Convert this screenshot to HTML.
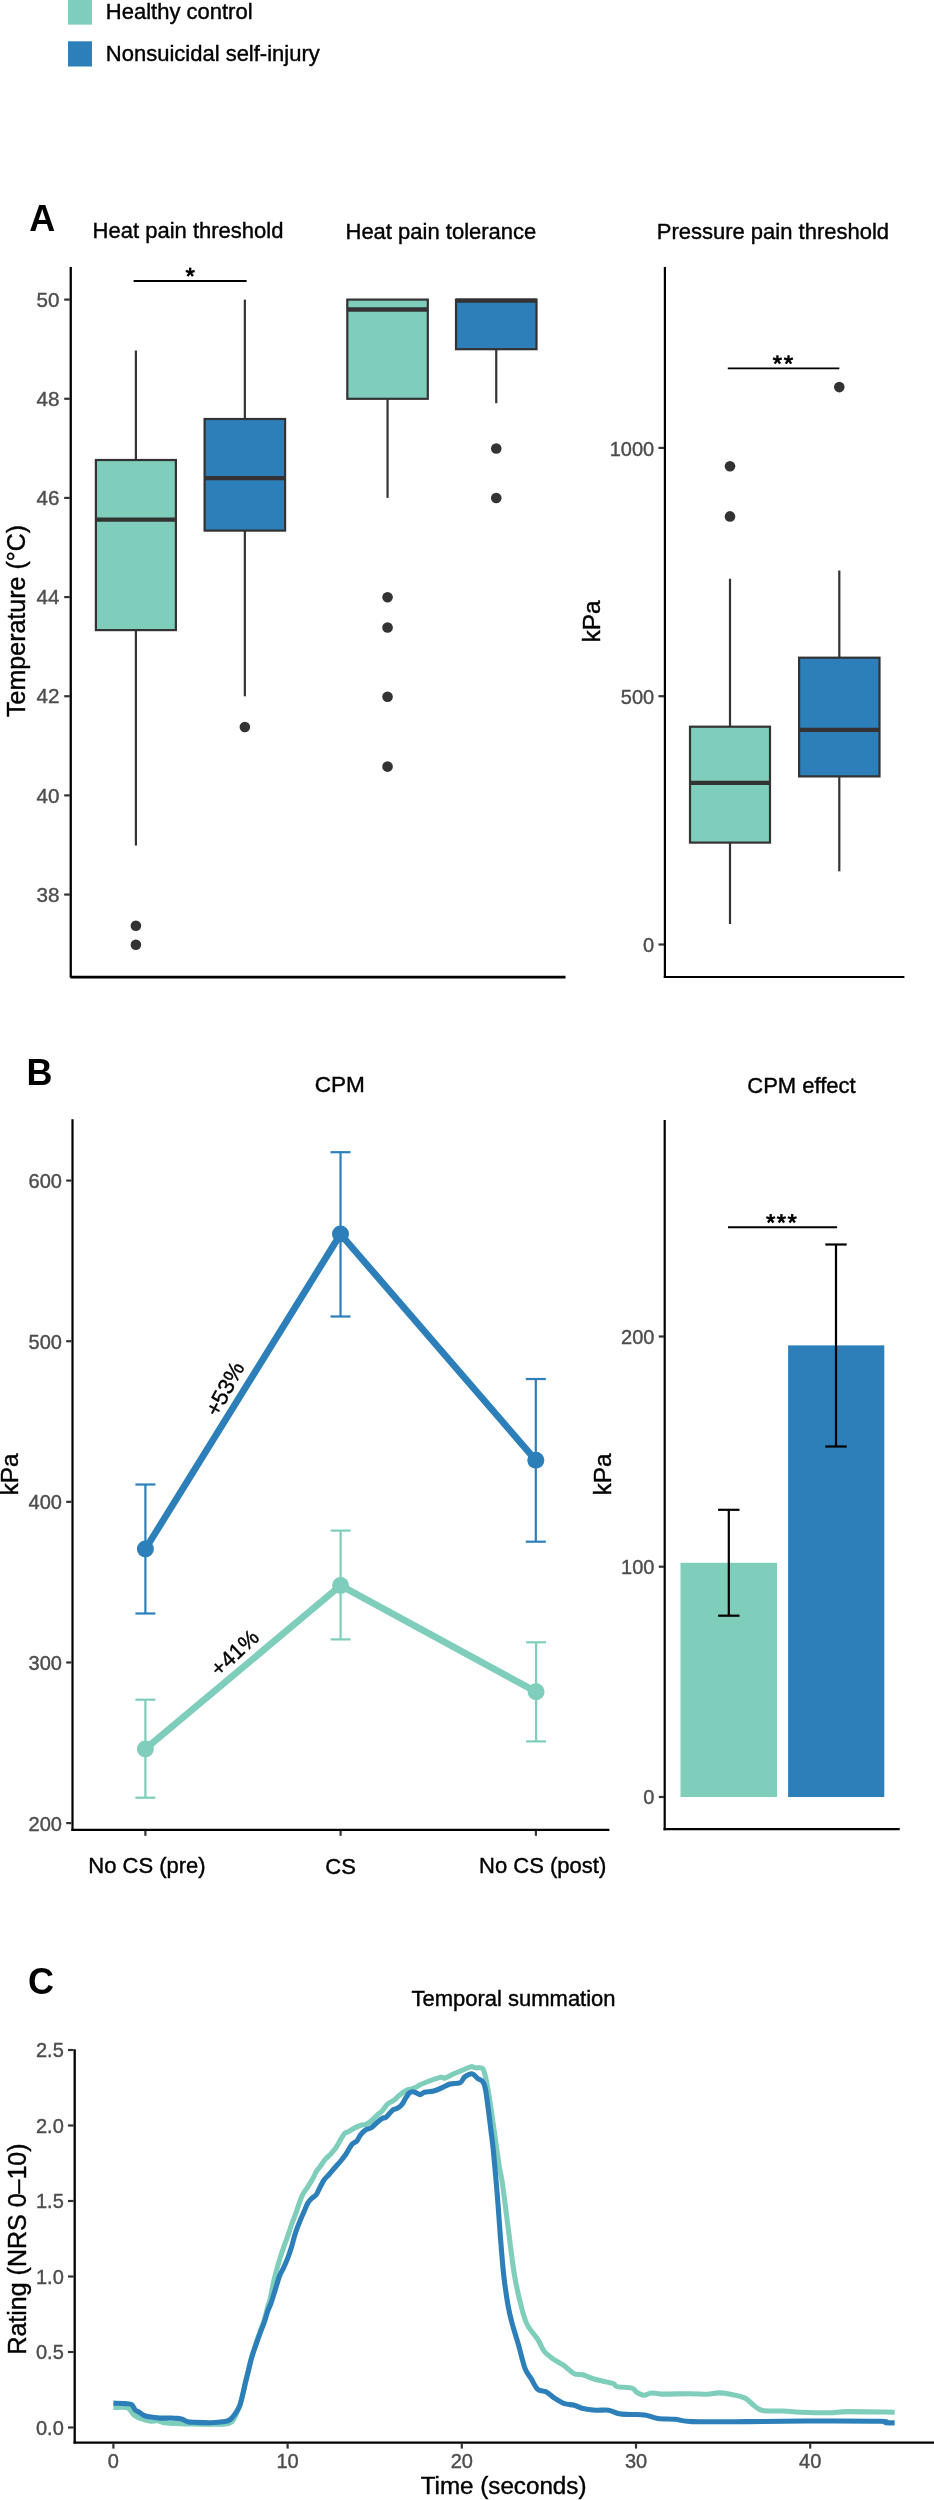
<!DOCTYPE html>
<html><head><meta charset="utf-8"><title>Figure</title>
<style>
html,body{margin:0;padding:0;background:#fff;width:934px;height:2500px;overflow:hidden;}
svg{display:block;will-change:transform;}
text{font-family:"Liberation Sans", sans-serif;}
</style></head>
<body>
<svg width="934" height="2500" viewBox="0 0 934 2500">
<rect x="0" y="0" width="934" height="2500" fill="#fff"/>
<rect x="68" y="-1" width="24" height="25.6" fill="#7fcdbb"/>
<rect x="68" y="41.3" width="24" height="25.2" fill="#2c7fb8"/>
<text x="105.8" y="18.8" font-size="22" fill="#000" stroke="#000" stroke-width="0.4" text-anchor="start" font-weight="normal" >Healthy control</text>
<text x="105.8" y="60.7" font-size="22" fill="#000" stroke="#000" stroke-width="0.4" text-anchor="start" font-weight="normal" >Nonsuicidal self-injury</text>
<text x="29.2" y="231.3" font-size="36" fill="#000" stroke="#000" stroke-width="0" text-anchor="start" font-weight="bold" >A</text>
<text x="188" y="238.3" font-size="22" fill="#000" stroke="#000" stroke-width="0.4" text-anchor="middle" font-weight="normal" >Heat pain threshold</text>
<text x="440.9" y="238.6" font-size="22" fill="#000" stroke="#000" stroke-width="0.4" text-anchor="middle" font-weight="normal" >Heat pain tolerance</text>
<text x="772.9" y="238.6" font-size="22" fill="#000" stroke="#000" stroke-width="0.4" text-anchor="middle" font-weight="normal" >Pressure pain threshold</text>
<line x1="70.75" y1="267" x2="70.75" y2="977.5" stroke="#000" stroke-width="2.3" stroke-linecap="butt"/>
<line x1="70.5" y1="977.2" x2="565.5" y2="977.2" stroke="#000" stroke-width="2.8" stroke-linecap="butt"/>
<line x1="64.2" y1="299.6" x2="69.8" y2="299.6" stroke="#333333" stroke-width="2.2" stroke-linecap="butt"/>
<text x="59.4" y="306.8" font-size="20.6" fill="#4d4d4d" stroke="#4d4d4d" stroke-width="0.4" text-anchor="end" font-weight="normal" >50</text>
<line x1="64.2" y1="398.76" x2="69.8" y2="398.76" stroke="#333333" stroke-width="2.2" stroke-linecap="butt"/>
<text x="59.4" y="405.96" font-size="20.6" fill="#4d4d4d" stroke="#4d4d4d" stroke-width="0.4" text-anchor="end" font-weight="normal" >48</text>
<line x1="64.2" y1="497.92" x2="69.8" y2="497.92" stroke="#333333" stroke-width="2.2" stroke-linecap="butt"/>
<text x="59.4" y="505.12" font-size="20.6" fill="#4d4d4d" stroke="#4d4d4d" stroke-width="0.4" text-anchor="end" font-weight="normal" >46</text>
<line x1="64.2" y1="597.08" x2="69.8" y2="597.08" stroke="#333333" stroke-width="2.2" stroke-linecap="butt"/>
<text x="59.4" y="604.2800000000001" font-size="20.6" fill="#4d4d4d" stroke="#4d4d4d" stroke-width="0.4" text-anchor="end" font-weight="normal" >44</text>
<line x1="64.2" y1="696.24" x2="69.8" y2="696.24" stroke="#333333" stroke-width="2.2" stroke-linecap="butt"/>
<text x="59.4" y="703.44" font-size="20.6" fill="#4d4d4d" stroke="#4d4d4d" stroke-width="0.4" text-anchor="end" font-weight="normal" >42</text>
<line x1="64.2" y1="795.4" x2="69.8" y2="795.4" stroke="#333333" stroke-width="2.2" stroke-linecap="butt"/>
<text x="59.4" y="802.6" font-size="20.6" fill="#4d4d4d" stroke="#4d4d4d" stroke-width="0.4" text-anchor="end" font-weight="normal" >40</text>
<line x1="64.2" y1="894.5600000000001" x2="69.8" y2="894.5600000000001" stroke="#333333" stroke-width="2.2" stroke-linecap="butt"/>
<text x="59.4" y="901.7600000000001" font-size="20.6" fill="#4d4d4d" stroke="#4d4d4d" stroke-width="0.4" text-anchor="end" font-weight="normal" >38</text>
<text transform="translate(24.8,620.9) rotate(-90)" font-size="25" text-anchor="middle" fill="#000" stroke="#000" stroke-width="0.4">Temperature (°C)</text>
<line x1="135.9" y1="350.5" x2="135.9" y2="460.0" stroke="#333333" stroke-width="2.2" stroke-linecap="butt"/>
<line x1="135.9" y1="630.1" x2="135.9" y2="845.5" stroke="#333333" stroke-width="2.2" stroke-linecap="butt"/>
<rect x="95.9" y="460.0" width="80.0" height="170.10000000000002" fill="#7fcdbb" stroke="#333333" stroke-width="2.2"/>
<line x1="95.9" y1="519.6" x2="175.9" y2="519.6" stroke="#333333" stroke-width="4.4" stroke-linecap="butt"/>
<circle cx="135.9" cy="925.8" r="5.3" fill="#333333"/>
<circle cx="135.9" cy="944.8" r="5.3" fill="#333333"/>
<line x1="244.85000000000002" y1="299.6" x2="244.85000000000002" y2="419.0" stroke="#333333" stroke-width="2.2" stroke-linecap="butt"/>
<line x1="244.85000000000002" y1="530.6" x2="244.85000000000002" y2="696.3" stroke="#333333" stroke-width="2.2" stroke-linecap="butt"/>
<rect x="204.6" y="419.0" width="80.50000000000003" height="111.60000000000002" fill="#2c7fb8" stroke="#333333" stroke-width="2.2"/>
<line x1="204.6" y1="478.1" x2="285.1" y2="478.1" stroke="#333333" stroke-width="4.4" stroke-linecap="butt"/>
<circle cx="244.85000000000002" cy="727.0" r="5.3" fill="#333333"/>
<line x1="387.55" y1="299.6" x2="387.55" y2="299.6" stroke="#333333" stroke-width="2.2" stroke-linecap="butt"/>
<line x1="387.55" y1="398.8" x2="387.55" y2="497.9" stroke="#333333" stroke-width="2.2" stroke-linecap="butt"/>
<rect x="347.3" y="299.6" width="80.5" height="99.19999999999999" fill="#7fcdbb" stroke="#333333" stroke-width="2.2"/>
<line x1="347.3" y1="309.5" x2="427.8" y2="309.5" stroke="#333333" stroke-width="4.4" stroke-linecap="butt"/>
<circle cx="387.55" cy="597.2" r="5.3" fill="#333333"/>
<circle cx="387.55" cy="627.5" r="5.3" fill="#333333"/>
<circle cx="387.55" cy="696.8" r="5.3" fill="#333333"/>
<circle cx="387.55" cy="766.6" r="5.3" fill="#333333"/>
<line x1="496.25" y1="299.6" x2="496.25" y2="299.6" stroke="#333333" stroke-width="2.2" stroke-linecap="butt"/>
<line x1="496.25" y1="349.2" x2="496.25" y2="403.2" stroke="#333333" stroke-width="2.2" stroke-linecap="butt"/>
<rect x="456.0" y="299.6" width="80.5" height="49.599999999999966" fill="#2c7fb8" stroke="#333333" stroke-width="2.2"/>
<line x1="456.0" y1="300.6" x2="536.5" y2="300.6" stroke="#333333" stroke-width="4.4" stroke-linecap="butt"/>
<circle cx="496.25" cy="448.5" r="5.3" fill="#333333"/>
<circle cx="496.25" cy="498.0" r="5.3" fill="#333333"/>
<line x1="133.6" y1="281" x2="246.6" y2="281" stroke="#000" stroke-width="1.9" stroke-linecap="butt"/>
<line x1="190.20" y1="272.30" x2="190.20" y2="267.65" stroke="#000" stroke-width="2.3" stroke-linecap="butt"/>
<line x1="190.20" y1="272.30" x2="194.62" y2="270.86" stroke="#000" stroke-width="2.3" stroke-linecap="butt"/>
<line x1="190.20" y1="272.30" x2="192.93" y2="276.06" stroke="#000" stroke-width="2.3" stroke-linecap="butt"/>
<line x1="190.20" y1="272.30" x2="187.47" y2="276.06" stroke="#000" stroke-width="2.3" stroke-linecap="butt"/>
<line x1="190.20" y1="272.30" x2="185.78" y2="270.86" stroke="#000" stroke-width="2.3" stroke-linecap="butt"/>
<line x1="664.9" y1="267" x2="664.9" y2="978" stroke="#000" stroke-width="2.2" stroke-linecap="butt"/>
<line x1="663.8" y1="977" x2="904.4" y2="977" stroke="#000" stroke-width="2.0" stroke-linecap="butt"/>
<line x1="658.5" y1="944.5" x2="664" y2="944.5" stroke="#333333" stroke-width="2.2" stroke-linecap="butt"/>
<text x="654.2" y="952.1" font-size="20" fill="#4d4d4d" stroke="#4d4d4d" stroke-width="0.4" text-anchor="end" font-weight="normal" >0</text>
<line x1="658.5" y1="696.2" x2="664" y2="696.2" stroke="#333333" stroke-width="2.2" stroke-linecap="butt"/>
<text x="654.2" y="703.8000000000001" font-size="20" fill="#4d4d4d" stroke="#4d4d4d" stroke-width="0.4" text-anchor="end" font-weight="normal" >500</text>
<line x1="658.5" y1="447.9" x2="664" y2="447.9" stroke="#333333" stroke-width="2.2" stroke-linecap="butt"/>
<text x="654.2" y="455.5" font-size="20" fill="#4d4d4d" stroke="#4d4d4d" stroke-width="0.4" text-anchor="end" font-weight="normal" >1000</text>
<text transform="translate(600.4,621.4) rotate(-90)" font-size="24.4" text-anchor="middle" fill="#000" stroke="#000" stroke-width="0.4">kPa</text>
<line x1="730.0" y1="578.7" x2="730.0" y2="726.7" stroke="#333333" stroke-width="2.2" stroke-linecap="butt"/>
<line x1="730.0" y1="842.6" x2="730.0" y2="924.0" stroke="#333333" stroke-width="2.2" stroke-linecap="butt"/>
<rect x="690.0" y="726.7" width="80.0" height="115.89999999999998" fill="#7fcdbb" stroke="#333333" stroke-width="2.2"/>
<line x1="690.0" y1="782.9" x2="770.0" y2="782.9" stroke="#333333" stroke-width="4.4" stroke-linecap="butt"/>
<circle cx="730.0" cy="466.2" r="5.3" fill="#333333"/>
<circle cx="730.0" cy="516.4" r="5.3" fill="#333333"/>
<line x1="839.3" y1="570.5" x2="839.3" y2="657.7" stroke="#333333" stroke-width="2.2" stroke-linecap="butt"/>
<line x1="839.3" y1="776.4" x2="839.3" y2="871.3" stroke="#333333" stroke-width="2.2" stroke-linecap="butt"/>
<rect x="799.1" y="657.7" width="80.39999999999998" height="118.69999999999993" fill="#2c7fb8" stroke="#333333" stroke-width="2.2"/>
<line x1="799.1" y1="729.9" x2="879.5" y2="729.9" stroke="#333333" stroke-width="4.4" stroke-linecap="butt"/>
<circle cx="839.3" cy="387.1" r="5.3" fill="#333333"/>
<line x1="727.8" y1="368.4" x2="839.3" y2="368.4" stroke="#000" stroke-width="1.9" stroke-linecap="butt"/>
<line x1="777.40" y1="359.90" x2="777.40" y2="355.25" stroke="#000" stroke-width="2.3" stroke-linecap="butt"/>
<line x1="777.40" y1="359.90" x2="781.82" y2="358.46" stroke="#000" stroke-width="2.3" stroke-linecap="butt"/>
<line x1="777.40" y1="359.90" x2="780.13" y2="363.66" stroke="#000" stroke-width="2.3" stroke-linecap="butt"/>
<line x1="777.40" y1="359.90" x2="774.67" y2="363.66" stroke="#000" stroke-width="2.3" stroke-linecap="butt"/>
<line x1="777.40" y1="359.90" x2="772.98" y2="358.46" stroke="#000" stroke-width="2.3" stroke-linecap="butt"/>
<line x1="788.50" y1="359.90" x2="788.50" y2="355.25" stroke="#000" stroke-width="2.3" stroke-linecap="butt"/>
<line x1="788.50" y1="359.90" x2="792.92" y2="358.46" stroke="#000" stroke-width="2.3" stroke-linecap="butt"/>
<line x1="788.50" y1="359.90" x2="791.23" y2="363.66" stroke="#000" stroke-width="2.3" stroke-linecap="butt"/>
<line x1="788.50" y1="359.90" x2="785.77" y2="363.66" stroke="#000" stroke-width="2.3" stroke-linecap="butt"/>
<line x1="788.50" y1="359.90" x2="784.08" y2="358.46" stroke="#000" stroke-width="2.3" stroke-linecap="butt"/>
<text x="26.5" y="1085.4" font-size="36" fill="#000" stroke="#000" stroke-width="0" text-anchor="start" font-weight="bold" >B</text>
<text x="339.8" y="1091.9" font-size="22.6" fill="#000" stroke="#000" stroke-width="0.4" text-anchor="middle" font-weight="normal" >CPM</text>
<text x="801.5" y="1092.9" font-size="22" fill="#000" stroke="#000" stroke-width="0.4" text-anchor="middle" font-weight="normal" >CPM effect</text>
<line x1="72.5" y1="1119.2" x2="72.5" y2="1830.9" stroke="#000" stroke-width="2.2" stroke-linecap="butt"/>
<line x1="71.4" y1="1829.8" x2="609.4" y2="1829.8" stroke="#000" stroke-width="2.2" stroke-linecap="butt"/>
<line x1="66.2" y1="1823.1" x2="71.5" y2="1823.1" stroke="#333333" stroke-width="2.2" stroke-linecap="butt"/>
<text x="61.9" y="1830.5" font-size="20" fill="#4d4d4d" stroke="#4d4d4d" stroke-width="0.4" text-anchor="end" font-weight="normal" >200</text>
<line x1="66.2" y1="1662.4699999999998" x2="71.5" y2="1662.4699999999998" stroke="#333333" stroke-width="2.2" stroke-linecap="butt"/>
<text x="61.9" y="1669.87" font-size="20" fill="#4d4d4d" stroke="#4d4d4d" stroke-width="0.4" text-anchor="end" font-weight="normal" >300</text>
<line x1="66.2" y1="1501.84" x2="71.5" y2="1501.84" stroke="#333333" stroke-width="2.2" stroke-linecap="butt"/>
<text x="61.9" y="1509.24" font-size="20" fill="#4d4d4d" stroke="#4d4d4d" stroke-width="0.4" text-anchor="end" font-weight="normal" >400</text>
<line x1="66.2" y1="1341.2099999999998" x2="71.5" y2="1341.2099999999998" stroke="#333333" stroke-width="2.2" stroke-linecap="butt"/>
<text x="61.9" y="1348.61" font-size="20" fill="#4d4d4d" stroke="#4d4d4d" stroke-width="0.4" text-anchor="end" font-weight="normal" >500</text>
<line x1="66.2" y1="1180.58" x2="71.5" y2="1180.58" stroke="#333333" stroke-width="2.2" stroke-linecap="butt"/>
<text x="61.9" y="1187.98" font-size="20" fill="#4d4d4d" stroke="#4d4d4d" stroke-width="0.4" text-anchor="end" font-weight="normal" >600</text>
<line x1="145.4" y1="1830.9" x2="145.4" y2="1835.8" stroke="#333333" stroke-width="2.2" stroke-linecap="butt"/>
<line x1="340.6" y1="1830.9" x2="340.6" y2="1835.8" stroke="#333333" stroke-width="2.2" stroke-linecap="butt"/>
<line x1="535.9" y1="1830.9" x2="535.9" y2="1835.8" stroke="#333333" stroke-width="2.2" stroke-linecap="butt"/>
<text x="147" y="1873.2" font-size="22" fill="#000" stroke="#000" stroke-width="0.4" text-anchor="middle" font-weight="normal" >No CS (pre)</text>
<text x="340.6" y="1874.2" font-size="22" fill="#000" stroke="#000" stroke-width="0.4" text-anchor="middle" font-weight="normal" >CS</text>
<text x="542.65" y="1873.2" font-size="22" fill="#000" stroke="#000" stroke-width="0.4" text-anchor="middle" font-weight="normal" >No CS (post)</text>
<text transform="translate(17.6,1474.4) rotate(-90)" font-size="24.4" text-anchor="middle" fill="#000" stroke="#000" stroke-width="0.4">kPa</text>
<polyline points="145.4,1748.9 340.6,1585.5 536.1,1691.8" fill="none" stroke="#7fcdbb" stroke-width="6.8" stroke-linejoin="round"/>
<polyline points="145.4,1549.0 340.5,1234.1 535.8,1460.3" fill="none" stroke="#2c7fb8" stroke-width="6.8" stroke-linejoin="round"/>
<line x1="145.4" y1="1484.5" x2="145.4" y2="1613.5" stroke="#2c7fb8" stroke-width="2.2" stroke-linecap="butt"/>
<line x1="135.4" y1="1484.5" x2="155.4" y2="1484.5" stroke="#2c7fb8" stroke-width="2.2" stroke-linecap="butt"/>
<line x1="135.4" y1="1613.5" x2="155.4" y2="1613.5" stroke="#2c7fb8" stroke-width="2.2" stroke-linecap="butt"/>
<line x1="340.5" y1="1152.2" x2="340.5" y2="1316.5" stroke="#2c7fb8" stroke-width="2.2" stroke-linecap="butt"/>
<line x1="330.5" y1="1152.2" x2="350.5" y2="1152.2" stroke="#2c7fb8" stroke-width="2.2" stroke-linecap="butt"/>
<line x1="330.5" y1="1316.5" x2="350.5" y2="1316.5" stroke="#2c7fb8" stroke-width="2.2" stroke-linecap="butt"/>
<line x1="535.8" y1="1379.0" x2="535.8" y2="1541.7" stroke="#2c7fb8" stroke-width="2.2" stroke-linecap="butt"/>
<line x1="525.8" y1="1379.0" x2="545.8" y2="1379.0" stroke="#2c7fb8" stroke-width="2.2" stroke-linecap="butt"/>
<line x1="525.8" y1="1541.7" x2="545.8" y2="1541.7" stroke="#2c7fb8" stroke-width="2.2" stroke-linecap="butt"/>
<line x1="145.4" y1="1699.7" x2="145.4" y2="1797.7" stroke="#7fcdbb" stroke-width="2.2" stroke-linecap="butt"/>
<line x1="135.4" y1="1699.7" x2="155.4" y2="1699.7" stroke="#7fcdbb" stroke-width="2.2" stroke-linecap="butt"/>
<line x1="135.4" y1="1797.7" x2="155.4" y2="1797.7" stroke="#7fcdbb" stroke-width="2.2" stroke-linecap="butt"/>
<line x1="340.6" y1="1530.6" x2="340.6" y2="1639.4" stroke="#7fcdbb" stroke-width="2.2" stroke-linecap="butt"/>
<line x1="330.6" y1="1530.6" x2="350.6" y2="1530.6" stroke="#7fcdbb" stroke-width="2.2" stroke-linecap="butt"/>
<line x1="330.6" y1="1639.4" x2="350.6" y2="1639.4" stroke="#7fcdbb" stroke-width="2.2" stroke-linecap="butt"/>
<line x1="536.1" y1="1642.3" x2="536.1" y2="1741.4" stroke="#7fcdbb" stroke-width="2.2" stroke-linecap="butt"/>
<line x1="526.1" y1="1642.3" x2="546.1" y2="1642.3" stroke="#7fcdbb" stroke-width="2.2" stroke-linecap="butt"/>
<line x1="526.1" y1="1741.4" x2="546.1" y2="1741.4" stroke="#7fcdbb" stroke-width="2.2" stroke-linecap="butt"/>
<circle cx="145.4" cy="1549.0" r="8.5" fill="#2c7fb8"/>
<circle cx="340.5" cy="1234.1" r="8.5" fill="#2c7fb8"/>
<circle cx="535.8" cy="1460.3" r="8.5" fill="#2c7fb8"/>
<circle cx="145.4" cy="1748.9" r="8.5" fill="#7fcdbb"/>
<circle cx="340.6" cy="1585.5" r="8.5" fill="#7fcdbb"/>
<circle cx="536.1" cy="1691.8" r="8.5" fill="#7fcdbb"/>
<text transform="translate(224.9,1388.9) rotate(-62)" font-size="22.3" text-anchor="middle" dominant-baseline="central" fill="#000" stroke="#000" stroke-width="0.4">+53%</text>
<text transform="translate(234.6,1652.8) rotate(-43)" font-size="21.8" text-anchor="middle" dominant-baseline="central" fill="#000" stroke="#000" stroke-width="0.4">+41%</text>
<line x1="664.7" y1="1120.1" x2="664.7" y2="1830.3" stroke="#000" stroke-width="2.2" stroke-linecap="butt"/>
<line x1="663.6" y1="1829.2" x2="899.7" y2="1829.2" stroke="#000" stroke-width="2.2" stroke-linecap="butt"/>
<line x1="658.8" y1="1797.0" x2="664" y2="1797.0" stroke="#333333" stroke-width="2.2" stroke-linecap="butt"/>
<text x="654.4" y="1804.4" font-size="20" fill="#4d4d4d" stroke="#4d4d4d" stroke-width="0.4" text-anchor="end" font-weight="normal" >0</text>
<line x1="658.8" y1="1566.7" x2="664" y2="1566.7" stroke="#333333" stroke-width="2.2" stroke-linecap="butt"/>
<text x="654.4" y="1574.1000000000001" font-size="20" fill="#4d4d4d" stroke="#4d4d4d" stroke-width="0.4" text-anchor="end" font-weight="normal" >100</text>
<line x1="658.8" y1="1336.5" x2="664" y2="1336.5" stroke="#333333" stroke-width="2.2" stroke-linecap="butt"/>
<text x="654.4" y="1343.9" font-size="20" fill="#4d4d4d" stroke="#4d4d4d" stroke-width="0.4" text-anchor="end" font-weight="normal" >200</text>
<text transform="translate(610.7,1474.4) rotate(-90)" font-size="24.4" text-anchor="middle" fill="#000" stroke="#000" stroke-width="0.4">kPa</text>
<rect x="680.5" y="1562.8" width="96.5" height="234.20000000000005" fill="#7fcdbb"/>
<rect x="788.1" y="1345.4" width="96.2" height="451.5999999999999" fill="#2c7fb8"/>
<line x1="728.8" y1="1509.8" x2="728.8" y2="1615.7" stroke="#000" stroke-width="2.2" stroke-linecap="butt"/>
<line x1="718.0999999999999" y1="1509.8" x2="739.5" y2="1509.8" stroke="#000" stroke-width="2.2" stroke-linecap="butt"/>
<line x1="718.0999999999999" y1="1615.7" x2="739.5" y2="1615.7" stroke="#000" stroke-width="2.2" stroke-linecap="butt"/>
<line x1="836.0" y1="1244.5" x2="836.0" y2="1446.5" stroke="#000" stroke-width="2.2" stroke-linecap="butt"/>
<line x1="825.3" y1="1244.5" x2="846.7" y2="1244.5" stroke="#000" stroke-width="2.2" stroke-linecap="butt"/>
<line x1="825.3" y1="1446.5" x2="846.7" y2="1446.5" stroke="#000" stroke-width="2.2" stroke-linecap="butt"/>
<line x1="728" y1="1227.3" x2="837.1" y2="1227.3" stroke="#000" stroke-width="1.9" stroke-linecap="butt"/>
<line x1="770.70" y1="1218.70" x2="770.70" y2="1214.05" stroke="#000" stroke-width="2.3" stroke-linecap="butt"/>
<line x1="770.70" y1="1218.70" x2="775.12" y2="1217.26" stroke="#000" stroke-width="2.3" stroke-linecap="butt"/>
<line x1="770.70" y1="1218.70" x2="773.43" y2="1222.46" stroke="#000" stroke-width="2.3" stroke-linecap="butt"/>
<line x1="770.70" y1="1218.70" x2="767.97" y2="1222.46" stroke="#000" stroke-width="2.3" stroke-linecap="butt"/>
<line x1="770.70" y1="1218.70" x2="766.28" y2="1217.26" stroke="#000" stroke-width="2.3" stroke-linecap="butt"/>
<line x1="781.40" y1="1218.70" x2="781.40" y2="1214.05" stroke="#000" stroke-width="2.3" stroke-linecap="butt"/>
<line x1="781.40" y1="1218.70" x2="785.82" y2="1217.26" stroke="#000" stroke-width="2.3" stroke-linecap="butt"/>
<line x1="781.40" y1="1218.70" x2="784.13" y2="1222.46" stroke="#000" stroke-width="2.3" stroke-linecap="butt"/>
<line x1="781.40" y1="1218.70" x2="778.67" y2="1222.46" stroke="#000" stroke-width="2.3" stroke-linecap="butt"/>
<line x1="781.40" y1="1218.70" x2="776.98" y2="1217.26" stroke="#000" stroke-width="2.3" stroke-linecap="butt"/>
<line x1="792.20" y1="1218.70" x2="792.20" y2="1214.05" stroke="#000" stroke-width="2.3" stroke-linecap="butt"/>
<line x1="792.20" y1="1218.70" x2="796.62" y2="1217.26" stroke="#000" stroke-width="2.3" stroke-linecap="butt"/>
<line x1="792.20" y1="1218.70" x2="794.93" y2="1222.46" stroke="#000" stroke-width="2.3" stroke-linecap="butt"/>
<line x1="792.20" y1="1218.70" x2="789.47" y2="1222.46" stroke="#000" stroke-width="2.3" stroke-linecap="butt"/>
<line x1="792.20" y1="1218.70" x2="787.78" y2="1217.26" stroke="#000" stroke-width="2.3" stroke-linecap="butt"/>
<text x="28" y="1993.6" font-size="36" fill="#000" stroke="#000" stroke-width="0" text-anchor="start" font-weight="bold" >C</text>
<text x="513.5" y="2005.9" font-size="22" fill="#000" stroke="#000" stroke-width="0.4" text-anchor="middle" font-weight="normal" >Temporal summation</text>
<line x1="74.7" y1="2049.2" x2="74.7" y2="2443.6" stroke="#000" stroke-width="2.3" stroke-linecap="butt"/>
<line x1="73.6" y1="2442.6" x2="934" y2="2442.6" stroke="#000" stroke-width="2.1" stroke-linecap="butt"/>
<line x1="68" y1="2427.5" x2="73.6" y2="2427.5" stroke="#333333" stroke-width="2.2" stroke-linecap="butt"/>
<text x="63.8" y="2434.9" font-size="20" fill="#4d4d4d" stroke="#4d4d4d" stroke-width="0.4" text-anchor="end" font-weight="normal" >0.0</text>
<line x1="68" y1="2352.0" x2="73.6" y2="2352.0" stroke="#333333" stroke-width="2.2" stroke-linecap="butt"/>
<text x="63.8" y="2359.4" font-size="20" fill="#4d4d4d" stroke="#4d4d4d" stroke-width="0.4" text-anchor="end" font-weight="normal" >0.5</text>
<line x1="68" y1="2276.5" x2="73.6" y2="2276.5" stroke="#333333" stroke-width="2.2" stroke-linecap="butt"/>
<text x="63.8" y="2283.9" font-size="20" fill="#4d4d4d" stroke="#4d4d4d" stroke-width="0.4" text-anchor="end" font-weight="normal" >1.0</text>
<line x1="68" y1="2201.0" x2="73.6" y2="2201.0" stroke="#333333" stroke-width="2.2" stroke-linecap="butt"/>
<text x="63.8" y="2208.4" font-size="20" fill="#4d4d4d" stroke="#4d4d4d" stroke-width="0.4" text-anchor="end" font-weight="normal" >1.5</text>
<line x1="68" y1="2125.5" x2="73.6" y2="2125.5" stroke="#333333" stroke-width="2.2" stroke-linecap="butt"/>
<text x="63.8" y="2132.9" font-size="20" fill="#4d4d4d" stroke="#4d4d4d" stroke-width="0.4" text-anchor="end" font-weight="normal" >2.0</text>
<line x1="68" y1="2050.0" x2="73.6" y2="2050.0" stroke="#333333" stroke-width="2.2" stroke-linecap="butt"/>
<text x="63.8" y="2057.4" font-size="20" fill="#4d4d4d" stroke="#4d4d4d" stroke-width="0.4" text-anchor="end" font-weight="normal" >2.5</text>
<line x1="113.4" y1="2443.6" x2="113.4" y2="2448.6" stroke="#333333" stroke-width="2.2" stroke-linecap="butt"/>
<text x="113.4" y="2467.6" font-size="20" fill="#4d4d4d" stroke="#4d4d4d" stroke-width="0.4" text-anchor="middle" font-weight="normal" >0</text>
<line x1="287.6" y1="2443.6" x2="287.6" y2="2448.6" stroke="#333333" stroke-width="2.2" stroke-linecap="butt"/>
<text x="287.6" y="2467.6" font-size="20" fill="#4d4d4d" stroke="#4d4d4d" stroke-width="0.4" text-anchor="middle" font-weight="normal" >10</text>
<line x1="461.80000000000007" y1="2443.6" x2="461.80000000000007" y2="2448.6" stroke="#333333" stroke-width="2.2" stroke-linecap="butt"/>
<text x="461.80000000000007" y="2467.6" font-size="20" fill="#4d4d4d" stroke="#4d4d4d" stroke-width="0.4" text-anchor="middle" font-weight="normal" >20</text>
<line x1="636.0" y1="2443.6" x2="636.0" y2="2448.6" stroke="#333333" stroke-width="2.2" stroke-linecap="butt"/>
<text x="636.0" y="2467.6" font-size="20" fill="#4d4d4d" stroke="#4d4d4d" stroke-width="0.4" text-anchor="middle" font-weight="normal" >30</text>
<line x1="810.2" y1="2443.6" x2="810.2" y2="2448.6" stroke="#333333" stroke-width="2.2" stroke-linecap="butt"/>
<text x="810.2" y="2467.6" font-size="20" fill="#4d4d4d" stroke="#4d4d4d" stroke-width="0.4" text-anchor="middle" font-weight="normal" >40</text>
<text x="503.6" y="2494.4" font-size="24.2" fill="#000" stroke="#000" stroke-width="0.4" text-anchor="middle" font-weight="normal" >Time (seconds)</text>
<text transform="translate(25.8,2249) rotate(-90)" font-size="25" text-anchor="middle" fill="#000" stroke="#000" stroke-width="0.4">Rating (NRS 0–10)</text>
<path d="M113.4,2407.4 C115.5,2407.4 122.9,2407.0 125.7,2407.4 C128.5,2407.8 128.6,2408.3 130.0,2409.6 C131.4,2410.9 132.5,2413.8 134.3,2415.3 C136.1,2416.8 138.2,2417.5 140.7,2418.5 C143.2,2419.5 146.5,2420.7 149.3,2421.1 C152.2,2421.5 155.3,2420.4 157.8,2420.7 C160.3,2421.0 161.3,2422.3 164.2,2422.8 C167.1,2423.3 171.4,2423.3 175.0,2423.5 C178.6,2423.7 180.4,2423.8 185.7,2423.9 C191.0,2424.0 200.2,2424.3 207.0,2424.3 C213.8,2424.3 222.2,2424.3 226.3,2423.9 C230.4,2423.5 230.2,2423.2 231.7,2421.8 C233.2,2420.4 234.2,2418.1 235.5,2415.5 C236.8,2412.9 238.4,2409.8 239.6,2406.5 C240.8,2403.2 241.6,2399.6 242.6,2395.5 C243.6,2391.4 244.6,2386.3 245.6,2382.0 C246.6,2377.7 247.6,2373.7 248.6,2369.5 C249.6,2365.3 250.4,2361.2 251.6,2357.0 C252.8,2352.8 254.4,2348.2 255.8,2344.0 C257.2,2339.8 258.7,2335.6 260.1,2331.5 C261.5,2327.4 263.1,2323.8 264.4,2319.5 C265.7,2315.2 267.1,2309.4 268.0,2306.0 C268.9,2302.6 269.0,2303.6 270.1,2299.0 C271.2,2294.4 272.8,2285.1 274.4,2278.5 C276.0,2271.9 278.0,2264.9 279.6,2259.6 C281.2,2254.3 282.5,2250.5 283.8,2246.8 C285.1,2243.1 286.0,2241.1 287.3,2237.4 C288.6,2233.7 290.2,2228.5 291.6,2224.5 C293.0,2220.5 294.5,2217.0 295.8,2213.4 C297.1,2209.8 298.2,2206.2 299.3,2203.1 C300.4,2199.9 301.3,2197.2 302.7,2194.5 C304.1,2191.8 306.1,2189.5 307.8,2186.8 C309.5,2184.1 311.6,2180.9 313.0,2178.3 C314.4,2175.7 315.2,2173.3 316.4,2171.4 C317.6,2169.5 318.5,2168.7 320.0,2166.7 C321.5,2164.7 323.6,2161.3 325.4,2159.2 C327.2,2157.1 328.9,2155.8 330.7,2153.9 C332.5,2152.0 334.6,2149.7 336.1,2147.5 C337.6,2145.3 338.4,2143.3 339.8,2141.0 C341.2,2138.7 343.1,2135.1 344.6,2133.5 C346.1,2131.9 347.1,2132.4 348.9,2131.4 C350.7,2130.4 353.1,2128.7 355.3,2127.6 C357.5,2126.5 360.0,2125.5 361.8,2125.0 C363.6,2124.5 364.4,2125.1 366.0,2124.4 C367.6,2123.7 369.4,2122.4 371.4,2120.7 C373.4,2119.0 376.0,2115.9 377.8,2114.3 C379.6,2112.7 380.5,2112.7 382.1,2111.0 C383.7,2109.3 385.5,2105.9 387.5,2104.1 C389.5,2102.3 391.9,2101.7 393.9,2100.3 C395.8,2098.9 397.2,2097.1 399.2,2095.5 C401.2,2093.9 403.7,2091.8 405.7,2090.7 C407.7,2089.6 409.2,2089.7 411.0,2089.1 C412.8,2088.5 414.9,2087.7 416.4,2087.0 C417.9,2086.3 418.0,2085.8 420.0,2084.8 C422.0,2083.9 424.8,2082.6 428.3,2081.3 C431.8,2080.1 438.3,2077.8 441.0,2077.3 C443.7,2076.8 442.6,2078.8 444.7,2078.2 C446.8,2077.6 450.8,2075.1 453.8,2073.7 C456.8,2072.3 460.0,2071.2 462.9,2070.0 C465.8,2068.8 469.0,2067.1 471.1,2066.7 C473.2,2066.3 473.8,2067.6 475.6,2067.8 C477.4,2068.1 480.5,2067.2 482.0,2068.2 C483.5,2069.2 483.6,2069.8 484.7,2073.7 C485.8,2077.6 487.2,2084.9 488.4,2091.9 C489.6,2098.9 490.8,2107.3 492.0,2115.5 C493.2,2123.7 494.4,2132.5 495.6,2141.0 C496.8,2149.5 498.2,2159.3 499.3,2166.5 C500.4,2173.7 501.1,2174.2 502.5,2184.0 C503.9,2193.8 505.8,2210.0 507.8,2225.0 C509.8,2240.0 512.1,2261.0 514.3,2274.2 C516.4,2287.4 518.6,2295.8 520.7,2304.2 C522.8,2312.6 524.2,2318.6 527.1,2324.5 C530.0,2330.4 534.9,2335.0 537.8,2339.5 C540.6,2344.0 541.7,2348.1 544.2,2351.3 C546.7,2354.5 549.6,2356.5 552.8,2358.8 C556.0,2361.1 559.9,2362.7 563.5,2365.2 C567.1,2367.7 571.0,2372.2 574.2,2373.8 C577.4,2375.4 579.2,2373.9 582.8,2374.8 C586.4,2375.8 590.6,2378.1 595.6,2379.5 C600.6,2380.9 609.2,2382.2 612.8,2383.4 C616.4,2384.6 613.8,2385.8 617.0,2386.6 C620.2,2387.4 628.8,2387.2 632.0,2388.1 C635.2,2389.0 634.3,2390.8 636.3,2392.0 C638.3,2393.2 641.3,2395.0 643.8,2395.2 C646.3,2395.4 648.3,2393.2 651.3,2393.0 C654.3,2392.8 655.7,2394.0 662.0,2394.1 C668.3,2394.2 681.8,2393.7 689.3,2393.7 C696.8,2393.7 702.0,2394.4 706.9,2394.3 C711.8,2394.2 714.8,2392.9 718.7,2392.9 C722.6,2392.9 726.0,2393.4 730.4,2394.3 C734.8,2395.2 741.2,2396.2 745.1,2398.1 C749.0,2400.0 751.0,2403.4 753.9,2405.5 C756.8,2407.6 757.8,2409.6 762.7,2410.5 C767.6,2411.4 776.9,2410.7 783.2,2411.0 C789.6,2411.3 793.0,2411.9 800.8,2412.2 C808.6,2412.5 822.3,2412.9 830.1,2412.8 C837.9,2412.7 836.9,2411.7 847.7,2411.6 C858.5,2411.5 886.9,2412.1 894.7,2412.2" fill="none" stroke="#7fcdbb" stroke-width="5.1" stroke-linejoin="round" stroke-linecap="butt"/>
<path d="M113.4,2403.1 C115.5,2403.2 122.7,2403.3 125.7,2403.6 C128.8,2403.8 130.1,2403.5 131.7,2404.6 C133.3,2405.7 134.0,2408.7 135.3,2410.0 C136.6,2411.3 138.2,2411.6 139.6,2412.5 C141.0,2413.4 142.3,2414.6 143.9,2415.3 C145.5,2416.0 146.6,2416.3 149.3,2416.8 C152.0,2417.3 156.1,2417.9 160.0,2418.1 C163.9,2418.3 169.2,2417.9 172.8,2418.1 C176.4,2418.2 178.9,2418.4 181.4,2419.0 C183.9,2419.6 185.3,2421.2 187.8,2421.8 C190.3,2422.4 192.5,2422.2 196.4,2422.4 C200.3,2422.6 206.5,2422.9 211.3,2422.8 C216.1,2422.7 221.9,2422.1 225.0,2421.6 C228.1,2421.1 228.4,2420.9 230.1,2419.6 C231.8,2418.3 233.7,2415.9 235.3,2413.6 C236.9,2411.3 238.4,2409.0 239.6,2405.9 C240.8,2402.8 241.6,2398.8 242.6,2394.8 C243.6,2390.8 244.6,2386.1 245.6,2381.9 C246.6,2377.8 247.6,2373.9 248.6,2369.9 C249.6,2365.9 250.4,2362.0 251.6,2357.9 C252.8,2353.8 254.4,2349.2 255.8,2345.1 C257.2,2341.0 258.7,2336.9 260.1,2333.1 C261.5,2329.2 263.1,2325.7 264.4,2322.0 C265.7,2318.3 266.6,2314.1 267.8,2310.8 C269.0,2307.5 269.9,2306.3 271.3,2302.3 C272.7,2298.3 274.7,2291.4 276.1,2287.0 C277.5,2282.6 278.3,2279.2 279.6,2275.9 C280.9,2272.6 282.4,2270.4 283.8,2267.3 C285.2,2264.2 286.8,2260.5 288.1,2257.1 C289.4,2253.7 290.5,2250.4 291.6,2246.8 C292.7,2243.2 293.6,2239.0 294.6,2235.7 C295.6,2232.4 296.4,2230.0 297.5,2227.1 C298.6,2224.2 299.9,2221.2 301.0,2218.5 C302.1,2215.8 303.3,2213.4 304.4,2210.8 C305.5,2208.2 306.6,2205.1 307.8,2203.1 C309.0,2201.1 309.9,2200.2 311.3,2198.8 C312.7,2197.4 315.0,2196.3 316.4,2194.5 C317.8,2192.7 318.5,2190.1 319.8,2187.7 C321.1,2185.3 322.5,2182.2 324.0,2180.0 C325.5,2177.8 327.2,2176.6 329.0,2174.5 C330.8,2172.4 332.9,2169.9 335.0,2167.5 C337.1,2165.1 339.5,2162.6 341.3,2160.3 C343.1,2158.1 344.2,2156.7 346.0,2154.0 C347.8,2151.3 350.3,2146.4 352.1,2144.2 C353.9,2142.0 355.5,2142.6 356.9,2141.0 C358.3,2139.4 359.3,2136.4 360.7,2134.6 C362.1,2132.8 363.2,2131.5 365.0,2130.3 C366.8,2129.1 369.4,2128.8 371.4,2127.6 C373.3,2126.3 374.9,2124.3 376.7,2122.8 C378.5,2121.3 380.5,2119.5 382.1,2118.5 C383.7,2117.5 384.6,2118.3 386.4,2116.9 C388.2,2115.5 391.0,2111.4 392.8,2110.0 C394.6,2108.6 395.7,2109.2 397.1,2108.4 C398.5,2107.6 400.0,2106.9 401.4,2105.2 C402.8,2103.5 404.4,2100.2 405.7,2098.2 C406.9,2096.2 407.8,2094.5 408.9,2093.4 C410.0,2092.3 410.9,2091.9 412.1,2091.8 C413.4,2091.7 415.1,2092.3 416.4,2092.8 C417.7,2093.3 418.7,2094.7 420.1,2094.6 C421.5,2094.5 422.3,2092.8 424.6,2092.2 C426.9,2091.6 430.7,2091.8 433.7,2091.0 C436.7,2090.2 440.1,2088.5 442.8,2087.3 C445.5,2086.1 447.2,2084.8 450.1,2084.0 C453.0,2083.2 457.7,2084.0 460.1,2082.8 C462.5,2081.6 462.7,2078.4 464.7,2076.9 C466.7,2075.4 469.9,2073.5 472.0,2073.7 C474.1,2073.9 475.6,2076.8 477.4,2078.2 C479.2,2079.6 481.5,2079.9 482.9,2081.9 C484.3,2083.9 484.7,2085.3 485.6,2090.0 C486.5,2094.7 487.5,2103.0 488.4,2110.0 C489.3,2117.0 490.3,2125.2 491.1,2131.9 C491.9,2138.6 492.3,2139.8 493.3,2150.0 C494.3,2160.2 495.9,2178.5 497.1,2192.8 C498.3,2207.1 499.2,2222.1 500.3,2235.7 C501.4,2249.3 502.4,2262.8 503.6,2274.2 C504.9,2285.6 506.4,2296.0 507.8,2304.2 C509.2,2312.4 510.3,2316.6 512.1,2323.4 C513.9,2330.2 516.4,2337.4 518.5,2344.9 C520.6,2352.4 522.9,2362.7 525.0,2368.4 C527.1,2374.1 529.3,2375.6 531.4,2379.1 C533.5,2382.6 535.3,2387.2 537.8,2389.4 C540.3,2391.6 543.5,2390.5 546.4,2392.0 C549.3,2393.5 552.0,2396.5 555.0,2398.4 C558.0,2400.3 561.4,2402.6 564.6,2403.7 C567.8,2404.8 571.2,2404.4 574.2,2405.2 C577.2,2406.0 579.2,2407.7 582.8,2408.5 C586.4,2409.3 591.3,2409.9 595.6,2410.2 C599.9,2410.5 604.6,2409.6 608.5,2410.2 C612.4,2410.8 615.6,2413.1 619.2,2413.8 C622.8,2414.5 625.6,2414.3 629.9,2414.5 C634.2,2414.7 640.2,2414.2 644.9,2414.9 C649.6,2415.6 653.0,2417.8 658.0,2418.5 C663.0,2419.2 669.3,2418.8 675.0,2419.3 C680.7,2419.8 680.1,2421.2 692.3,2421.6 C704.5,2422.0 728.9,2421.7 748.0,2421.6 C767.1,2421.5 784.7,2421.1 806.7,2421.0 C828.7,2420.9 866.8,2421.0 880.0,2421.3 C893.2,2421.6 883.4,2422.6 885.9,2422.8 C888.4,2423.1 893.2,2422.8 894.7,2422.8" fill="none" stroke="#2c7fb8" stroke-width="5.1" stroke-linejoin="round" stroke-linecap="butt"/>
</svg>
</body></html>
